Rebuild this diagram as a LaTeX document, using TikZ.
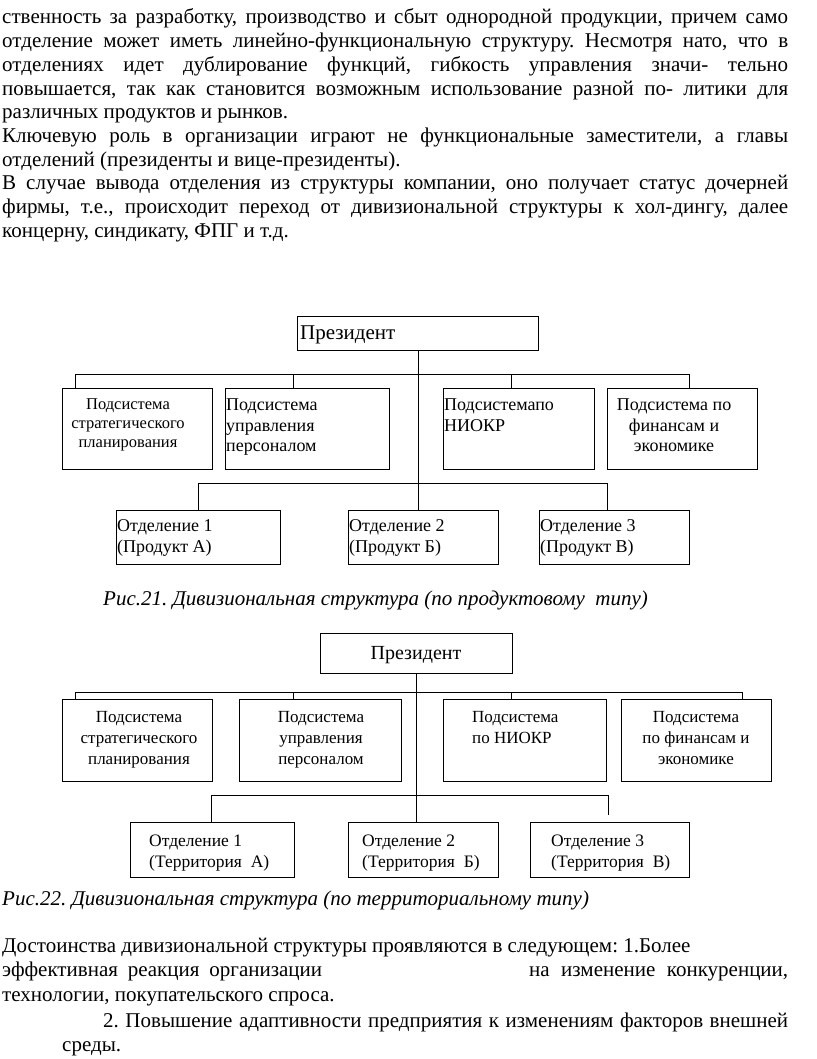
\documentclass[tikz,border=0pt]{standalone}
\usepackage{fontspec}
\setmainfont{Liberation Serif}
\frenchspacing
\newcommand\fsz[1]{\fontsize{#1}{#1}\selectfont}
\begin{document}
\begin{tikzpicture}[x=1pt,y=-1pt,
  box/.style={draw, line width=0.8pt, anchor=north west, inner sep=0pt},
  lbl/.style={inner sep=0pt, anchor=base west},
  clbl/.style={inner sep=0pt, anchor=base},
  body/.style={inner sep=0pt, anchor=base west, font=\fsz{21}},
  capt/.style={inner sep=0pt, anchor=base west, font=\fsz{21}\itshape},
  ln/.style={line width=0.8pt}]
\useasboundingbox (0,0) rectangle (816,1059);
% ---------- body text ----------
\node[body] (p1) at (2,24) {\hbox to 786pt{ственность за разработку, производство и сбыт однородной продукции, причем само}};
\node[body] (p2) at (2,47.7) {\hbox to 786pt{отделение может иметь линейно-функциональную структуру. Несмотря нато, что в}};
\node[body] (p3) at (2,71.4) {\hbox to 786pt{отделениях идет дублирование функций, гибкость управления значи- тельно}};
\node[body] (p4) at (2,95.1) {\hbox to 786pt{повышается, так как становится возможным использование разной по- литики для}};
\node[body] (p5) at (2,118.8) {различных продуктов и рынков.};
\node[body] (p6) at (2,142.5) {\hbox to 786pt{Ключевую роль в организации играют не функциональные заместители, а главы}};
\node[body] (p7) at (2,166.2) {отделений (президенты и вице-президенты).};
\node[body] (p8) at (2,189.9) {\hbox to 786pt{В случае вывода отделения из структуры компании, оно получает статус дочерней}};
\node[body] (p9) at (2,213.6) {\hbox to 786pt{фирмы, т.е., происходит переход от дивизиональной структуры к хол-дингу, далее}};
\node[body] (p10) at (2,237.3) {концерну, синдикату, ФПГ и т.д.};
% ---------- diagram 1 ----------
\node[box, minimum width=241pt, minimum height=34pt] (P1) at (297,316) {};
\node[lbl, font=\fsz{21}] (P1t) at (300,339) {Президент};
\node[box, minimum width=150pt, minimum height=81pt] (S1) at (61.5,388) {};
\node[box, minimum width=164pt, minimum height=81pt] (S2) at (225,388) {};
\node[box, minimum width=151pt, minimum height=81pt] (S3) at (443,388) {};
\node[box, minimum width=150pt, minimum height=81pt] (S4) at (607,388) {};
\node[clbl, font=\fsz{16.5}] (S1a) at (128,409) {Подсистема};
\node[clbl, font=\fsz{16.5}] (S1b) at (128,428) {стратегического};
\node[clbl, font=\fsz{16.5}] (S1c) at (128,447) {планирования};
\node[lbl, font=\fsz{18}] (S2a) at (226,410) {Подсистема};
\node[lbl, font=\fsz{18}] (S2b) at (226,431) {управления};
\node[lbl, font=\fsz{18}] (S2c) at (226,451) {персоналом};
\node[lbl, font=\fsz{18}] (S3a) at (444,410) {Подсистемапо};
\node[lbl, font=\fsz{18}] (S3b) at (444,431) {НИОКР};
\node[clbl, font=\fsz{18}] (S4a) at (674,410) {Подсистема по};
\node[clbl, font=\fsz{18}] (S4b) at (674,431) {финансам и};
\node[clbl, font=\fsz{18}] (S4c) at (674,451) {экономике};
\node[box, minimum width=164pt, minimum height=54pt] (O1) at (116,510) {};
\node[box, minimum width=150pt, minimum height=54pt] (O2) at (348,510) {};
\node[box, minimum width=150pt, minimum height=54pt] (O3) at (539,510) {};
\node[lbl, font=\fsz{18}] (O1a) at (117,531) {Отделение 1};
\node[lbl, font=\fsz{18}] (O1b) at (117,552) {(Продукт А)};
\node[lbl, font=\fsz{18}] (O2a) at (349,531) {Отделение 2};
\node[lbl, font=\fsz{18}] (O2b) at (349,552) {(Продукт Б)};
\node[lbl, font=\fsz{18}] (O3a) at (540,531) {Отделение 3};
\node[lbl, font=\fsz{18}] (O3b) at (540,552) {(Продукт В)};
\coordinate (a1) at (75,374);
\coordinate (a2) at (293,374);
\coordinate (a3) at (511,374);
\coordinate (a4) at (689,374);
\coordinate (c1) at (198,483);
\coordinate (c3) at (607,483);
\draw[ln] (a1) -- (a4);
\draw[ln] (a1) -- (a1 |- S1.north);
\draw[ln] (a2) -- (a2 |- S2.north);
\draw[ln] (a3) -- (a3 |- S3.north);
\draw[ln] (a4) -- (a4 |- S4.north);
\draw[ln] (P1.south) -- (P1.south |- O2.north);
\draw[ln] (c1) -- (c3);
\draw[ln] (c1) -- (c1 |- O1.north);
\draw[ln] (c3) -- (c3 |- O3.north);
\node[capt] (cap1) at (103,605) {Рис.21. Дивизиональная структура (по продуктовому\ \ типу)};
% ---------- diagram 2 ----------
\node[box, minimum width=191.5pt, minimum height=40pt] (P2) at (320,633) {};
\node[clbl, font=\fsz{20}] (P2t) at (416,659) {Президент};
\node[box, minimum width=150pt, minimum height=82pt] (T1) at (61.5,699) {};
\node[box, minimum width=162pt, minimum height=82pt] (T2) at (239,699) {};
\node[box, minimum width=163pt, minimum height=82pt] (T3) at (443,699) {};
\node[box, minimum width=150pt, minimum height=82pt] (T4) at (621,699) {};
\node[clbl, font=\fsz{17}] (T1a) at (139,722) {Подсистема};
\node[clbl, font=\fsz{17}] (T1b) at (139,743) {стратегического};
\node[clbl, font=\fsz{17}] (T1c) at (139,764) {планирования};
\node[clbl, font=\fsz{17}] (T2a) at (321,722) {Подсистема};
\node[clbl, font=\fsz{17}] (T2b) at (321,743) {управления};
\node[clbl, font=\fsz{17}] (T2c) at (321,764) {персоналом};
\node[lbl, font=\fsz{17}] (T3a) at (472,722) {Подсистема};
\node[lbl, font=\fsz{17}] (T3b) at (472,743) {по НИОКР};
\node[clbl, font=\fsz{17}] (T4a) at (696,722) {Подсистема};
\node[clbl, font=\fsz{17}] (T4b) at (696,743) {по финансам и};
\node[clbl, font=\fsz{17}] (T4c) at (696,764) {экономике};
\node[box, minimum width=164pt, minimum height=55pt] (U1) at (130,822) {};
\node[box, minimum width=150pt, minimum height=55pt] (U2) at (348,822) {};
\node[box, minimum width=159pt, minimum height=55pt] (U3) at (530,822) {};
\node[lbl, font=\fsz{17.5}] (U1a) at (149,846) {Отделение 1};
\node[lbl, font=\fsz{17.5}] (U1b) at (149,867) {(Территория\ \ А)};
\node[lbl, font=\fsz{17.5}] (U2a) at (362,846) {Отделение 2};
\node[lbl, font=\fsz{17.5}] (U2b) at (362,867) {(Территория\ \ Б)};
\node[lbl, font=\fsz{17.5}] (U3a) at (551,846) {Отделение 3};
\node[lbl, font=\fsz{17.5}] (U3b) at (551,867) {(Территория\ \ В)};
\coordinate (d1) at (75,692);
\coordinate (d2) at (293,692);
\coordinate (d3) at (511.5,692);
\coordinate (d4) at (742,692);
\coordinate (e1) at (211.5,795);
\coordinate (e3) at (608,795);
\coordinate (e3end) at (608,815);
\draw[ln] (d1) -- (d4);
\draw[ln] (d1) -- (d1 |- T1.north);
\draw[ln] (d2) -- (d2 |- T2.north);
\draw[ln] (d3) -- (d3 |- T3.north);
\draw[ln] (d4) -- (d4 |- T4.north);
\draw[ln] (P2.south) -- (P2.south |- U2.north);
\draw[ln] (e1) -- (e3);
\draw[ln] (e1) -- (e1 |- U1.north);
\draw[ln] (e3) -- (e3end);
\node[capt] (cap2) at (2,905) {Рис.22. Дивизиональная структура (по территориальному типу)};
% ---------- bottom text ----------
\node[body] (q1) at (2,952) {Достоинства дивизиональной структуры проявляются в следующем: 1.Более};
\node[body] (q2) at (2,976) {\hbox to 786pt{\hbox to 320pt{эффективная реакция организации}\hfill\hbox to 259pt{на изменение конкуренции,}}};
\node[body] (q3) at (2,1001) {технологии, покупательского спроса.};
\node[body] (q4) at (103,1027) {\hbox to 685pt{2. Повышение адаптивности предприятия к изменениям факторов внешней}};
\node[body] (q5) at (62,1051) {среды.};
\end{tikzpicture}
\end{document}
